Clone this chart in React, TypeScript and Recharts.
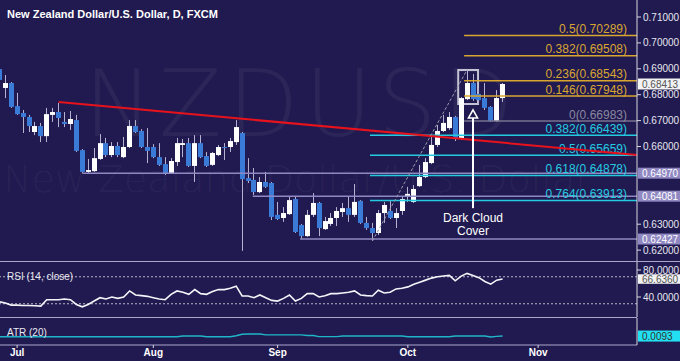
import React from 'react'
import { ComposedChart, Bar, Line, XAxis, YAxis, ReferenceLine, ReferenceArea, ReferenceDot } from 'recharts'

const BG = '#211a50'
const FONT = '"Liberation Sans", Arial, sans-serif'
const GOLD = '#d9a630'
const CYAN = '#24cbe0'
const LAV = '#8f88c2'
const UP = '#ffffff'
const DOWN = '#3b7bd8'
const WICK = '#b6b2d2'

// one slot per trading day: day 1 = 26 Jun, day 4 = 1 Jul ... day 86 = 23 Oct
const open = [
  0.6899, 0.6826, 0.6845, 0.6756, 0.6729, 0.6714, 0.6656, 0.6679, 0.664, 0.6722,
  0.6733, 0.6695, 0.6687, 0.6702, 0.6586, 0.6502, 0.6505, 0.6552, 0.6613, 0.6567,
  0.6602, 0.6559, 0.6598, 0.6679, 0.666, 0.6598, 0.6598, 0.6559, 0.6532, 0.6498,
  0.654, 0.6606, 0.6613, 0.6525, 0.6613, 0.6563, 0.6529, 0.6567, 0.6598, 0.6598,
  0.6617, 0.6652, 0.6478, 0.6471, 0.6424, 0.6463, 0.6459, 0.6336, 0.6324, 0.6339,
  0.6397, 0.6297, 0.6254, 0.6336, 0.6382, 0.6281, 0.6301, 0.6324, 0.6347, 0.6362,
  0.6336, 0.639, 0.6305, 0.6285, 0.6266, 0.6343, 0.6351, 0.6324, 0.6351, 0.6405,
  0.6386, 0.6447, 0.6482, 0.6536, 0.6606, 0.666, 0.6671, 0.6714, 0.6633, 0.6783,
  0.6845, 0.6803, 0.6787, 0.6753, 0.6698, 0.6787,
]
const high = [
  0.6911, 0.6876, 0.6849, 0.6807, 0.6741, 0.6722, 0.6695, 0.6691, 0.6749, 0.6749,
  0.6768, 0.6733, 0.6737, 0.6722, 0.659, 0.6552, 0.6594, 0.6648, 0.6633, 0.6617,
  0.6617, 0.6637, 0.6702, 0.6702, 0.6667, 0.6671, 0.6609, 0.6613, 0.6559, 0.6555,
  0.6633, 0.6629, 0.6633, 0.6644, 0.6644, 0.6579, 0.6579, 0.6606, 0.6613, 0.6633,
  0.6702, 0.6656, 0.6555, 0.6517, 0.6482, 0.6502, 0.6463, 0.6386, 0.6366, 0.6405,
  0.6405, 0.6301, 0.6355, 0.642, 0.6386, 0.6328, 0.6343, 0.6366, 0.6382, 0.6405,
  0.6455, 0.6393, 0.6328, 0.6305, 0.6355, 0.6386, 0.6393, 0.6362, 0.6405, 0.6444,
  0.6451, 0.6529, 0.6555, 0.6637, 0.6683, 0.6722, 0.6733, 0.6718, 0.6791, 0.6896,
  0.688, 0.6826, 0.6845, 0.6756, 0.6818, 0.6845,
]
const low = [
  0.6849, 0.6787, 0.6749, 0.6722, 0.6652, 0.6656, 0.6644, 0.6617, 0.6617, 0.6695,
  0.6675, 0.6675, 0.6664, 0.6579, 0.6498, 0.6498, 0.6502, 0.6548, 0.6559, 0.6559,
  0.6559, 0.6555, 0.6594, 0.6652, 0.6594, 0.6536, 0.6555, 0.6525, 0.649, 0.6494,
  0.6525, 0.6559, 0.6521, 0.6463, 0.6555, 0.6521, 0.6525, 0.6563, 0.6548, 0.6579,
  0.6606, 0.6197, 0.6459, 0.6413, 0.642, 0.644, 0.6316, 0.6316, 0.6309, 0.6336,
  0.6266, 0.6243, 0.6251, 0.6328, 0.6254, 0.6278, 0.6293, 0.6293, 0.6328, 0.6309,
  0.6328, 0.6301, 0.6278, 0.6235, 0.6258, 0.6305, 0.632, 0.6285, 0.6336, 0.6386,
  0.6382, 0.6444, 0.6478, 0.6532, 0.6598, 0.6656, 0.6664, 0.6621, 0.6625, 0.6779,
  0.6776, 0.6764, 0.6741, 0.6695, 0.6695, 0.6772,
]
const close = [
  0.6857, 0.6845, 0.6753, 0.6725, 0.6714, 0.6679, 0.6679, 0.664, 0.6725, 0.6733,
  0.671, 0.6687, 0.6706, 0.6583, 0.6502, 0.6509, 0.6555, 0.6613, 0.6567, 0.6602,
  0.6567, 0.6598, 0.6679, 0.6656, 0.6598, 0.6583, 0.6559, 0.6529, 0.6498, 0.6544,
  0.6613, 0.6613, 0.6525, 0.6613, 0.6559, 0.6525, 0.6575, 0.6598, 0.6594, 0.6621,
  0.6675, 0.6474, 0.6467, 0.6424, 0.6463, 0.6444, 0.6328, 0.632, 0.6343, 0.6393,
  0.627, 0.6254, 0.6336, 0.6382, 0.6285, 0.6312, 0.6324, 0.6351, 0.6362, 0.6336,
  0.6386, 0.6305, 0.6285, 0.6266, 0.6343, 0.6374, 0.6324, 0.6343, 0.6397, 0.6417,
  0.6436, 0.6482, 0.654, 0.6606, 0.666, 0.6691, 0.6714, 0.6633, 0.6787, 0.6845,
  0.6783, 0.6779, 0.6749, 0.6698, 0.6787, 0.68413,
]
const rsi = [
  33, 31, 28, 28, 27.5, 27.5, 27, 26.5, 36, 36,
  36, 37, 36, 29, 25.5, 29, 34, 39, 37, 40,
  38, 40, 49, 43, 42, 41, 39, 37, 36, 44,
  49, 47, 44, 51, 45, 44, 48, 51, 51, 53,
  56, 41.5, 41.5, 39, 43, 39, 35, 34, 38, 43,
  34, 38, 45, 45, 40, 42, 45, 45, 46, 47,
  49, 43, 42, 41.5, 50, 46, 47, 52, 53, 55,
  59, 62, 65, 68, 70, 71, 72, 64, 71, 75,
  72, 68.6, 63, 59, 65, 66.636,
]
const atr = [
  0.0089, 0.0089, 0.0089, 0.0089, 0.0089, 0.0089, 0.0089, 0.0089, 0.0089, 0.0089,
  0.0089, 0.0089, 0.0089, 0.0089, 0.0089, 0.0089, 0.0089, 0.0089, 0.0089, 0.0089,
  0.0089, 0.0089, 0.0089, 0.0089, 0.0089, 0.0089, 0.0089, 0.0089, 0.0089, 0.0089,
  0.0089, 0.0093, 0.0093, 0.0093, 0.0093, 0.0089, 0.0089, 0.0089, 0.0089, 0.0089,
  0.0095, 0.0103, 0.0105, 0.0105, 0.0105, 0.01, 0.01, 0.01, 0.01, 0.01,
  0.01, 0.01, 0.0096, 0.0096, 0.009, 0.009, 0.009, 0.009, 0.0093, 0.0093,
  0.0093, 0.0093, 0.0093, 0.0093, 0.0093, 0.0093, 0.0093, 0.0093, 0.0093, 0.0089,
  0.0089, 0.0089, 0.0089, 0.0089, 0.0089, 0.0089, 0.0089, 0.0093, 0.0093, 0.0093,
  0.0093, 0.0093, 0.0093, 0.0088, 0.0091, 0.0093,
]

const monthTicks = [4, 27, 48, 70, 92]
const monthLabels = ['Jul', 'Aug', 'Sep', 'Oct', 'Nov']
const priceTicks = [0.62, 0.63, 0.66, 0.67, 0.68, 0.69, 0.7, 0.71]

const extNames = ['0.5', '0.382', '0.236', '0.146']
const extValues = [0.70289, 0.69508, 0.68543, 0.67948]
const retNames = ['0.382', '0.5', '0.618', '0.764']
const retValues = [0.66439, 0.65659, 0.64878, 0.63913]
const fibZero = 0.66983
const supports = [0.6497, 0.64081, 0.62427]
const supportFrom = [15, 43.8, 51.8]
const lastPrice = 0.68413

const XD: [number, number] = [1.105, 108.7]

const candles = open.map((o, k) => ({ i: k + 1, o, h: high[k], l: low[k], c: close[k], hl: [low[k], high[k]] }))
const rsiData = rsi.map((v, k) => ({ i: k + 1, rsi: v }))
const atrData = atr.map((v, k) => ({ i: k + 1, atr: v }))

function Candle(props: any) {
  const { x, y, width, height, payload } = props
  if (!payload || height == null) return null
  const k = height / (payload.h - payload.l)
  const yo = y + (payload.h - payload.o) * k
  const yc = y + (payload.h - payload.c) * k
  const cx = Math.round(x + width / 2) + 0.5
  const top = Math.min(yo, yc)
  const bh = Math.max(1, Math.abs(yc - yo))
  return (
    <g>
      <line x1={cx} x2={cx} y1={y} y2={y + height} stroke={WICK} strokeWidth={1} />
      <rect x={cx - 2.5} y={top} width={5} height={bh} fill={payload.c >= payload.o ? UP : DOWN} />
    </g>
  )
}

function FibLabel(props: any) {
  const vb = props.viewBox
  if (!vb) return null
  return (
    <text x={vb.x + vb.width - 10} y={vb.y - 2.5} fill={props.color} fontSize={12} fontFamily={FONT} textAnchor="end">
      {props.text}
    </text>
  )
}

function Tag(props: any) {
  const vb = props.viewBox
  if (!vb) return null
  const x = vb.x + vb.width + 1
  const h = props.h || 11
  return (
    <g>
      <rect x={x} y={vb.y - h / 2} width={43} height={h} fill={props.bg} />
      <text x={x + 4} y={vb.y + 3.5} fill={props.fg} fontSize={10} fontFamily={FONT}>{props.text}</text>
    </g>
  )
}

const axisTick = { fill: '#e6e6ee', fontSize: 10, fontFamily: FONT }

export default function App() {
  return (
    <div style={{ position: 'absolute', left: 0, top: 0, width: 680, height: 361, background: BG, overflow: 'hidden' }}>
      <svg width={680} height={361} style={{ position: 'absolute', left: 0, top: 0 }}>
        <text x={84} y={136} fontSize={92} letterSpacing={6} fontFamily='"DejaVu Sans"' fontWeight={200} fill="rgba(255,255,255,0.05)">NZDUSD</text>
        <text x={3} y={192} fontSize={38} fontFamily='"DejaVu Sans"' fontWeight={200} fill="rgba(255,255,255,0.05)">New Zealand Dollar/U.S. Dollar</text>
        <line x1={0} x2={680} y1={261.5} y2={261.5} stroke="#aaa6cc" />
        <line x1={0} x2={637} y1={317.5} y2={317.5} stroke="#aaa6cc" />
      </svg>

      <div style={{ position: 'absolute', left: 0, top: 0 }}>
        <ComposedChart width={680} height={261} data={candles} margin={{ top: 0, right: 0, bottom: 0, left: 0 }}>
          <XAxis type="number" dataKey="i" domain={XD} allowDataOverflow hide />
          <YAxis
            orientation="right"
            width={43}
            domain={[0.61579, 0.716564]}
            allowDataOverflow
            ticks={priceTicks}
            interval={0}
            tickFormatter={(v: number) => v.toFixed(5)}
            tick={axisTick}
            tickSize={4}
            tickMargin={2}
            tickLine={{ stroke: '#d8d8e0' }}
            axisLine={{ stroke: '#d8d8e0' }}
          />
          {supports.map((v, k) => (
            <ReferenceLine
              key={'s' + k}
              segment={[{ x: supportFrom[k], y: v }, { x: XD[1], y: v }]}
              stroke={LAV}
              strokeWidth={1.5}
              label={<Tag text={v.toFixed(5)} bg={LAV} fg="#ffffff" />}
            />
          ))}
          <ReferenceLine y={lastPrice} stroke="none" label={<Tag text={lastPrice.toFixed(5)} bg="#f2f2f2" fg="#555555" />} />
          <ReferenceLine
            segment={[{ x: 79.5, y: fibZero }, { x: XD[1], y: fibZero }]}
            stroke="#77738f"
            strokeWidth={1.5}
            label={<FibLabel text={'0(' + fibZero + ')'} color="#8a879e" />}
          />
          {extValues.map((v, k) => (
            <ReferenceLine
              key={'e' + k}
              segment={[{ x: 79.5, y: v }, { x: XD[1], y: v }]}
              stroke={GOLD}
              strokeWidth={1.5}
              label={<FibLabel text={extNames[k] + '(' + v.toFixed(5) + ')'} color={GOLD} />}
            />
          ))}
          {retValues.map((v, k) => (
            <ReferenceLine
              key={'r' + k}
              segment={[{ x: 63.6, y: v }, { x: XD[1], y: v }]}
              stroke={CYAN}
              strokeWidth={1.5}
              label={<FibLabel text={retNames[k] + '(' + v.toFixed(5) + ')'} color={CYAN} />}
            />
          ))}
          <ReferenceLine segment={[{ x: 11, y: 0.6772 }, { x: XD[1], y: 0.65672 }]} stroke="#e8121c" strokeWidth={2} />
          <ReferenceLine segment={[{ x: 64, y: low[63] }, { x: 80, y: high[79] }]} stroke="#9a98a8" strokeDasharray="3 2" />
          <Bar dataKey="hl" barSize={5} shape={(p: any) => <Candle {...p} />} isAnimationActive={false} />
          <ReferenceArea x1={78.5} x2={81.85} y1={0.6764} y2={0.6895} fill="none" stroke="#c4c2d4" strokeWidth={2} />
          <ReferenceLine segment={[{ x: 81, y: 0.6714 }, { x: 81, y: 0.6362 }]} stroke="#ffffff" strokeWidth={2} />
          <ReferenceDot
            x={81}
            y={0.6714}
            shape={(p: any) => (
              <path d={`M${p.cx},${p.cy - 7} L${p.cx + 4.5},${p.cy + 1} L${p.cx - 4.5},${p.cy + 1} Z`} fill={BG} stroke="#ffffff" strokeWidth={1.6} />
            )}
          />
          <ReferenceDot
            x={81}
            y={0.6362}
            shape={(p: any) => (
              <g>
                <text x={p.cx} y={p.cy + 14} textAnchor="middle" fill="#ffffff" fontSize={12} fontFamily={FONT}>Dark Cloud</text>
                <text x={p.cx} y={p.cy + 27} textAnchor="middle" fill="#ffffff" fontSize={12} fontFamily={FONT}>Cover</text>
              </g>
            )}
          />
        </ComposedChart>
      </div>

      <div style={{ position: 'absolute', left: 0, top: 262 }}>
        <ComposedChart width={680} height={55} data={rsiData} margin={{ top: 0, right: 0, bottom: 0, left: 0 }}>
          <XAxis type="number" dataKey="i" domain={XD} allowDataOverflow hide />
          <YAxis
            orientation="right"
            width={43}
            domain={[10.4, 91.85]}
            allowDataOverflow
            ticks={[40, 80]}
            interval={0}
            tickFormatter={(v: number) => v.toFixed(4)}
            tick={axisTick}
            tickSize={4}
            tickMargin={2}
            tickLine={{ stroke: '#d8d8e0' }}
            axisLine={{ stroke: '#d8d8e0' }}
          />
          <ReferenceLine y={70} stroke="#b8b6c8" strokeDasharray="2 2" />
          <ReferenceLine y={30} stroke="#b8b6c8" strokeDasharray="2 2" />
          <Line dataKey="rsi" stroke="#f4f4f8" strokeWidth={1.6} dot={false} isAnimationActive={false} />
          <ReferenceLine y={66.636} stroke="none" label={<Tag text="66.6360" bg="#f2f2f2" fg="#555555" h={9.5} />} />
        </ComposedChart>
      </div>

      <div style={{ position: 'absolute', left: 0, top: 318 }}>
        <ComposedChart width={680} height={43} data={atrData} margin={{ top: 0, right: 0, bottom: 0, left: 0 }}>
          <XAxis
            type="number"
            dataKey="i"
            domain={XD}
            allowDataOverflow
            ticks={monthTicks}
            interval={0}
            height={16}
            tickFormatter={(v: number) => monthLabels[monthTicks.indexOf(v)] || ''}
            tick={{ fill: '#ffffff', fontSize: 10, fontFamily: FONT, fontWeight: 'bold' }}
            tickSize={3}
            tickMargin={1}
            tickLine={{ stroke: '#d8d8e0' }}
            axisLine={{ stroke: '#aaa6cc' }}
          />
          <YAxis orientation="right" width={43} domain={[0.0042, 0.0196]} allowDataOverflow ticks={[]} axisLine={{ stroke: '#d8d8e0' }} tick={false} />
          <Line dataKey="atr" stroke="#1fb6c8" strokeWidth={1.4} dot={false} isAnimationActive={false} />
          <ReferenceLine y={0.0093} stroke="none" label={<Tag text="0.0093" bg="#22e0f2" fg="#333333" />} />
        </ComposedChart>
      </div>

      <svg width={680} height={361} style={{ position: 'absolute', left: 0, top: 0, pointerEvents: 'none' }}>
        <text x={7} y={18} fontSize={11} fontWeight="bold" fontFamily={FONT} fill="#ffffff">New Zealand Dollar/U.S. Dollar, D, FXCM</text>
        <text x={7} y={280} fontSize={10} fontFamily={FONT} fill="#e8e8f0">RSI (14, close)</text>
        <text x={7} y={336} fontSize={10} fontFamily={FONT} fill="#e8e8f0">ATR (20)</text>
      </svg>
    </div>
  )
}
